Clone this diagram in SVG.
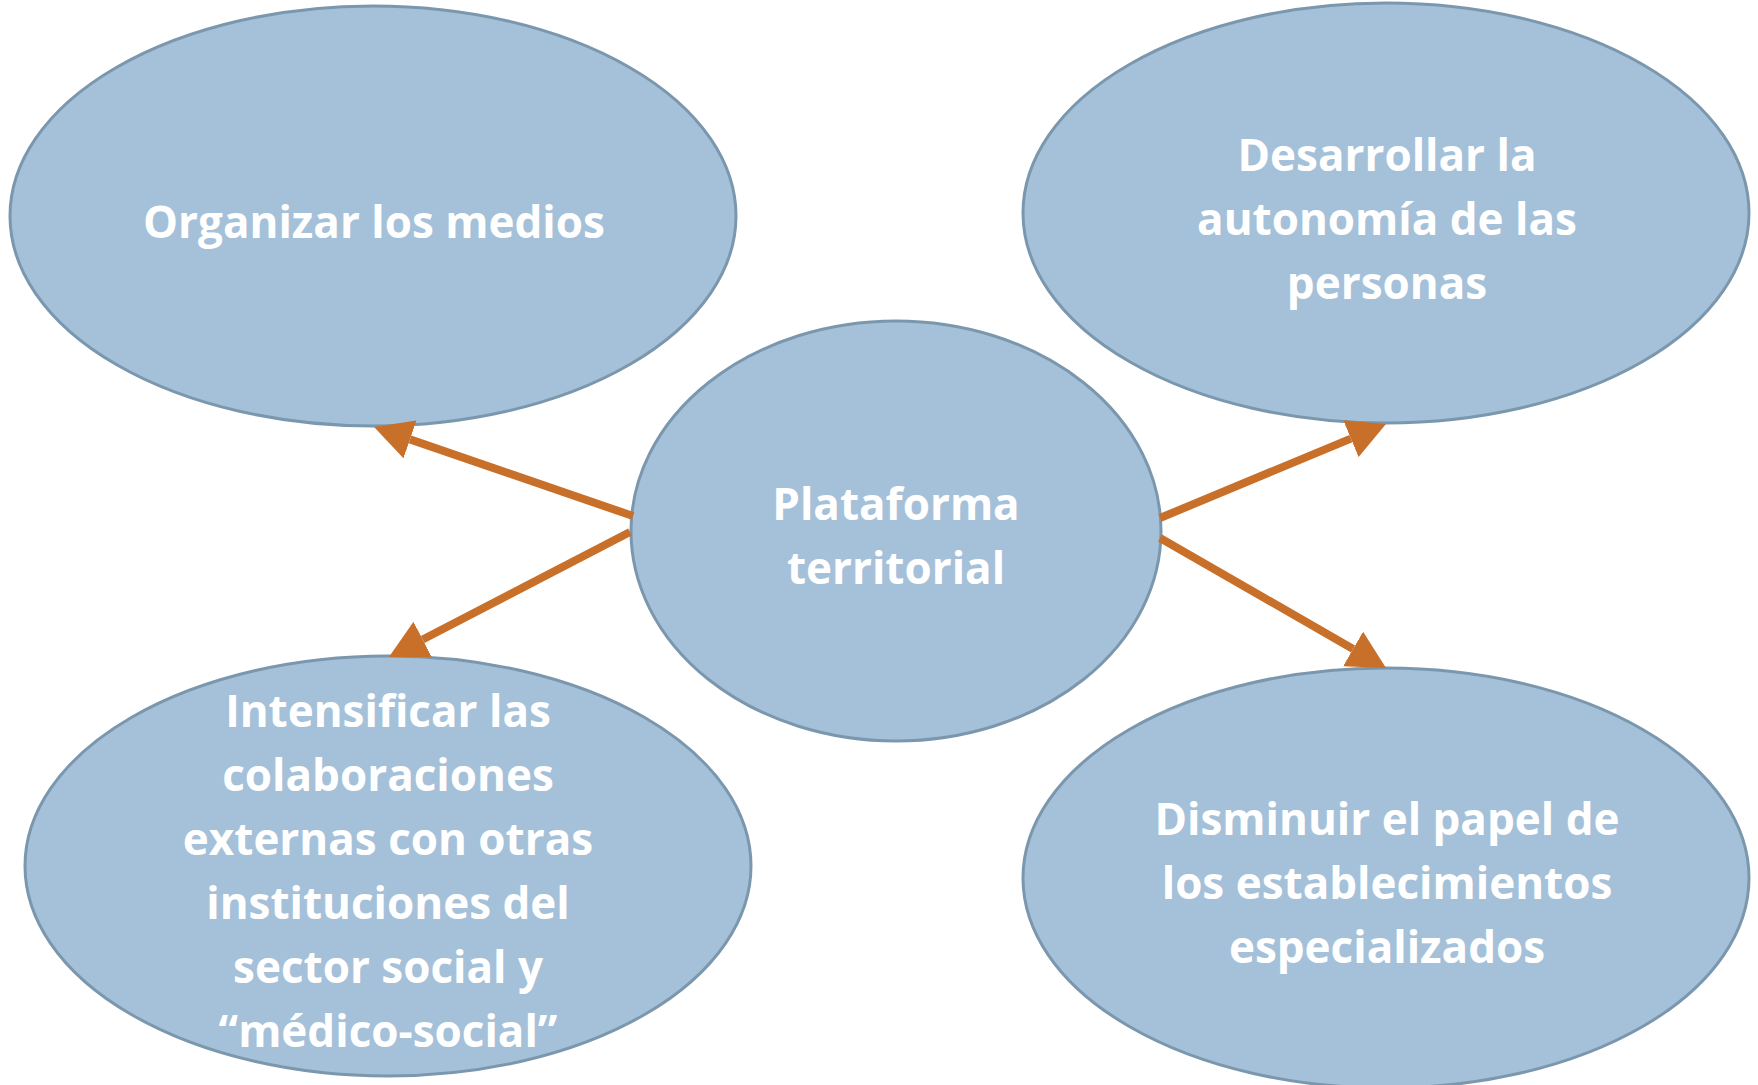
<svg xmlns="http://www.w3.org/2000/svg" width="1758" height="1085" viewBox="0 0 1758 1085">
<style>
.node ellipse{fill:#a5c1d9;stroke:#7b97ad;stroke-width:3}
.node text{fill:#ffffff;font-family:"Open Sans","Liberation Sans",sans-serif;font-weight:bold;font-size:44px;text-anchor:middle}
.conn line{stroke:#c8702a;stroke-width:8}
</style>
<defs>
<marker id="ah" markerUnits="userSpaceOnUse" markerWidth="38" markerHeight="40" viewBox="0 0 38 40" refX="0" refY="20" orient="auto">
<path d="M0,0 L38,20 L0,40 z" fill="#c8702a"/>
</marker>
</defs>
<rect width="1758" height="1085" fill="#ffffff"/>
<g id="n-organizar" class="node">
<ellipse cx="373" cy="216" rx="363" ry="210"/>
<text x="374" y="238">Organizar los medios</text>
</g>
<g id="n-desarrollar" class="node">
<ellipse cx="1386" cy="213" rx="363" ry="210"/>
<text x="1387" y="171">Desarrollar la</text>
<text x="1387" y="235">autonomía de las</text>
<text x="1387" y="299">personas</text>
</g>
<g id="n-intensificar" class="node">
<ellipse cx="388" cy="866" rx="363" ry="210"/>
<text x="388" y="727">Intensificar las</text>
<text x="388" y="791">colaboraciones</text>
<text x="388" y="855">externas con otras</text>
<text x="388" y="919">instituciones del</text>
<text x="388" y="983">sector social y</text>
<text x="388" y="1047">“médico-social”</text>
</g>
<g id="n-disminuir" class="node">
<ellipse cx="1386" cy="878" rx="363" ry="210"/>
<text x="1387" y="835">Disminuir el papel de</text>
<text x="1387" y="899">los establecimientos</text>
<text x="1387" y="963">especializados</text>
</g>
<g id="n-plataforma" class="node">
<ellipse cx="896" cy="531" rx="265" ry="210"/>
<text x="896" y="520">Plataforma</text>
<text x="896" y="584">territorial</text>
</g>
<g id="connectors" class="conn">
<line x1="633" y1="516" x2="410" y2="439.4" marker-end="url(#ah)"/>
<line x1="630" y1="532" x2="422.7" y2="639.5" marker-end="url(#ah)"/>
<line x1="1160" y1="518" x2="1350.9" y2="438.6" marker-end="url(#ah)"/>
<line x1="1160" y1="538" x2="1353.1" y2="649" marker-end="url(#ah)"/>
</g>
</svg>
